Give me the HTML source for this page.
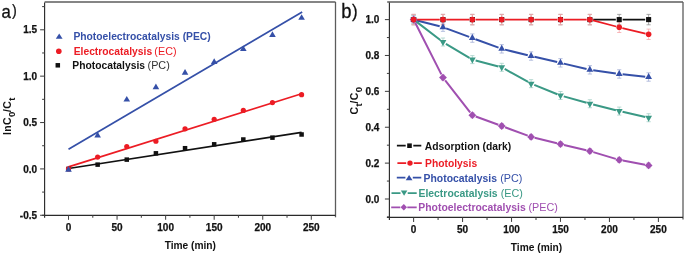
<!DOCTYPE html>
<html><head><meta charset="utf-8"><style>
html,body{margin:0;padding:0;background:#fff;width:685px;height:255px;overflow:hidden}
svg{display:block;will-change:transform}
text{font-family:"Liberation Sans", sans-serif}
.tk{font-size:10px;font-weight:bold;fill:#111;stroke:#111;stroke-width:0.25px}
.lab{font-size:10.2px;font-weight:bold;fill:#111}
.lab2{font-size:10.5px;font-weight:bold;fill:#111;letter-spacing:0.4px}
.sub{font-size:9.6px}
.lg{font-size:10.3px}
.lgr{font-size:10.8px}
.panel{font-size:20px;fill:#111;stroke:#111;stroke-width:0.3px}
.panel2{font-size:17px;fill:#111;stroke:#111;stroke-width:0.25px}
</style></head><body>
<svg width="685" height="255" viewBox="0 0 685 255">
<line x1="44.6" y1="2.0" x2="335.5" y2="2.0" stroke="#5c5c5c" stroke-width="1.3"/>
<line x1="335.5" y1="2.0" x2="335.5" y2="217.3" stroke="#5c5c5c" stroke-width="1.3"/>
<line x1="44.6" y1="2.5" x2="44.6" y2="217.8" stroke="#2a2a2a" stroke-width="1.15"/>
<line x1="42.1" y1="215.3" x2="335.5" y2="215.3" stroke="#2a2a2a" stroke-width="1.15"/>
<line x1="40.1" y1="29.78" x2="44.6" y2="29.78" stroke="#444" stroke-width="1.05"/>
<text x="37.1" y="33.38" text-anchor="end" class="tk">1.5</text>
<line x1="40.1" y1="76.15" x2="44.6" y2="76.15" stroke="#444" stroke-width="1.05"/>
<text x="37.1" y="79.75" text-anchor="end" class="tk">1.0</text>
<line x1="40.1" y1="122.53" x2="44.6" y2="122.53" stroke="#444" stroke-width="1.05"/>
<text x="37.1" y="126.12" text-anchor="end" class="tk">0.5</text>
<line x1="40.1" y1="168.90" x2="44.6" y2="168.90" stroke="#444" stroke-width="1.05"/>
<text x="37.1" y="172.50" text-anchor="end" class="tk">0.0</text>
<line x1="40.1" y1="215.28" x2="44.6" y2="215.28" stroke="#444" stroke-width="1.05"/>
<text x="37.1" y="218.88" text-anchor="end" class="tk">-0.5</text>
<line x1="42.1" y1="6.59" x2="44.6" y2="6.59" stroke="#444" stroke-width="1.05"/>
<line x1="42.1" y1="52.96" x2="44.6" y2="52.96" stroke="#444" stroke-width="1.05"/>
<line x1="42.1" y1="99.34" x2="44.6" y2="99.34" stroke="#444" stroke-width="1.05"/>
<line x1="42.1" y1="145.71" x2="44.6" y2="145.71" stroke="#444" stroke-width="1.05"/>
<line x1="42.1" y1="192.09" x2="44.6" y2="192.09" stroke="#444" stroke-width="1.05"/>
<line x1="68.50" y1="215.3" x2="68.50" y2="219.8" stroke="#444" stroke-width="1.05"/>
<text x="68.50" y="231.3" text-anchor="middle" class="tk">0</text>
<line x1="117.06" y1="215.3" x2="117.06" y2="219.8" stroke="#444" stroke-width="1.05"/>
<text x="117.06" y="231.3" text-anchor="middle" class="tk">50</text>
<line x1="165.62" y1="215.3" x2="165.62" y2="219.8" stroke="#444" stroke-width="1.05"/>
<text x="165.62" y="231.3" text-anchor="middle" class="tk">100</text>
<line x1="214.18" y1="215.3" x2="214.18" y2="219.8" stroke="#444" stroke-width="1.05"/>
<text x="214.18" y="231.3" text-anchor="middle" class="tk">150</text>
<line x1="262.74" y1="215.3" x2="262.74" y2="219.8" stroke="#444" stroke-width="1.05"/>
<text x="262.74" y="231.3" text-anchor="middle" class="tk">200</text>
<line x1="311.30" y1="215.3" x2="311.30" y2="219.8" stroke="#444" stroke-width="1.05"/>
<text x="311.30" y="231.3" text-anchor="middle" class="tk">250</text>
<line x1="92.78" y1="215.3" x2="92.78" y2="217.8" stroke="#444" stroke-width="1.05"/>
<line x1="141.34" y1="215.3" x2="141.34" y2="217.8" stroke="#444" stroke-width="1.05"/>
<line x1="189.90" y1="215.3" x2="189.90" y2="217.8" stroke="#444" stroke-width="1.05"/>
<line x1="238.46" y1="215.3" x2="238.46" y2="217.8" stroke="#444" stroke-width="1.05"/>
<line x1="287.02" y1="215.3" x2="287.02" y2="217.8" stroke="#444" stroke-width="1.05"/>
<text x="190.3" y="248.9" text-anchor="middle" class="lab">Time (min)</text>
<text transform="translate(11.3,135.1) rotate(-90)" x="0" y="0" class="lab2">lnC<tspan class="sub" dy="4">0</tspan><tspan dy="-4" dx="-0.8">/C</tspan><tspan class="sub" dy="4">t</tspan></text>
<text x="0" y="0" class="panel" transform="translate(1.5,17.6) scale(0.84,0.91)">a</text>
<text x="0" y="0" class="panel2" transform="translate(11.9,16.2) scale(0.85,0.93)">)</text>
<line x1="68.50" y1="149.3" x2="302.19" y2="11.9" stroke="#3550a8" stroke-width="1.7"/>
<line x1="68.50" y1="166.9" x2="301.59" y2="93.8" stroke="#ec1c24" stroke-width="1.7"/>
<line x1="68.50" y1="168.5" x2="301.59" y2="132.4" stroke="#111111" stroke-width="1.7"/>
<rect x="66.25" y="166.65" width="4.5" height="4.5" fill="#111111"/>
<rect x="95.39" y="162.38" width="4.5" height="4.5" fill="#111111"/>
<rect x="124.52" y="157.38" width="4.5" height="4.5" fill="#111111"/>
<rect x="153.66" y="151.07" width="4.5" height="4.5" fill="#111111"/>
<rect x="182.79" y="145.97" width="4.5" height="4.5" fill="#111111"/>
<rect x="211.93" y="142.07" width="4.5" height="4.5" fill="#111111"/>
<rect x="241.07" y="137.25" width="4.5" height="4.5" fill="#111111"/>
<rect x="270.20" y="135.39" width="4.5" height="4.5" fill="#111111"/>
<rect x="299.34" y="132.24" width="4.5" height="4.5" fill="#111111"/>
<circle cx="68.50" cy="168.90" r="2.6" fill="#ec1c24"/>
<circle cx="97.64" cy="157.12" r="2.6" fill="#ec1c24"/>
<circle cx="126.77" cy="146.55" r="2.6" fill="#ec1c24"/>
<circle cx="155.91" cy="141.26" r="2.6" fill="#ec1c24"/>
<circle cx="185.04" cy="128.83" r="2.6" fill="#ec1c24"/>
<circle cx="214.18" cy="119.28" r="2.6" fill="#ec1c24"/>
<circle cx="243.32" cy="110.47" r="2.6" fill="#ec1c24"/>
<circle cx="272.45" cy="102.58" r="2.6" fill="#ec1c24"/>
<circle cx="301.59" cy="94.70" r="2.6" fill="#ec1c24"/>
<polygon points="65.20,171.70 71.80,171.70 68.50,166.10" fill="#3550a8"/>
<polygon points="94.34,137.38 100.94,137.38 97.64,131.78" fill="#3550a8"/>
<polygon points="123.47,101.58 130.07,101.58 126.77,95.98" fill="#3550a8"/>
<polygon points="152.61,89.15 159.21,89.15 155.91,83.55" fill="#3550a8"/>
<polygon points="181.74,74.68 188.34,74.68 185.04,69.08" fill="#3550a8"/>
<polygon points="210.88,63.92 217.48,63.92 214.18,58.32" fill="#3550a8"/>
<polygon points="240.02,51.12 246.62,51.12 243.32,45.53" fill="#3550a8"/>
<polygon points="269.15,36.93 275.75,36.93 272.45,31.33" fill="#3550a8"/>
<polygon points="298.29,19.78 304.89,19.78 301.59,14.18" fill="#3550a8"/>
<polygon points="55.80,38.80 62.60,38.80 59.20,33.60" fill="#3550a8"/>
<circle cx="58.80" cy="51.30" r="2.8" fill="#ec1c24"/>
<rect x="55.55" y="63.05" width="4.5" height="4.5" fill="#111111"/>
<text x="73.4" y="40.4" class="lg" fill="#3550a8" font-weight="bold">Photoelectrocatalysis (PEC)</text>
<text x="73.7" y="54.9" class="lg" fill="#ec1c24" font-weight="bold">Electrocatalysis</text>
<text x="154.35" y="54.9" class="lgr" fill="#ec1c24">(EC)</text>
<text x="72.3" y="68.7" class="lg" fill="#111111" font-weight="bold">Photocatalysis</text>
<text x="147.55" y="68.7" class="lgr" fill="#333">(PC)</text>
<line x1="387.2" y1="2.0" x2="683.0" y2="2.0" stroke="#5c5c5c" stroke-width="1.3"/>
<line x1="683.0" y1="2.0" x2="683.0" y2="219.4" stroke="#5c5c5c" stroke-width="1.3"/>
<line x1="389.4" y1="2.5" x2="389.4" y2="219.9" stroke="#2a2a2a" stroke-width="1.15"/>
<line x1="386.9" y1="217.4" x2="683.0" y2="217.4" stroke="#2a2a2a" stroke-width="1.15"/>
<line x1="384.9" y1="199.00" x2="389.4" y2="199.00" stroke="#444" stroke-width="1.05"/>
<text x="379.4" y="202.60" text-anchor="end" class="tk">0.0</text>
<line x1="384.9" y1="163.12" x2="389.4" y2="163.12" stroke="#444" stroke-width="1.05"/>
<text x="379.4" y="166.72" text-anchor="end" class="tk">0.2</text>
<line x1="384.9" y1="127.24" x2="389.4" y2="127.24" stroke="#444" stroke-width="1.05"/>
<text x="379.4" y="130.84" text-anchor="end" class="tk">0.4</text>
<line x1="384.9" y1="91.36" x2="389.4" y2="91.36" stroke="#444" stroke-width="1.05"/>
<text x="379.4" y="94.96" text-anchor="end" class="tk">0.6</text>
<line x1="384.9" y1="55.48" x2="389.4" y2="55.48" stroke="#444" stroke-width="1.05"/>
<text x="379.4" y="59.08" text-anchor="end" class="tk">0.8</text>
<line x1="384.9" y1="19.60" x2="389.4" y2="19.60" stroke="#444" stroke-width="1.05"/>
<text x="379.4" y="23.20" text-anchor="end" class="tk">1.0</text>
<line x1="386.9" y1="216.94" x2="389.4" y2="216.94" stroke="#444" stroke-width="1.05"/>
<line x1="386.9" y1="181.06" x2="389.4" y2="181.06" stroke="#444" stroke-width="1.05"/>
<line x1="386.9" y1="145.18" x2="389.4" y2="145.18" stroke="#444" stroke-width="1.05"/>
<line x1="386.9" y1="109.30" x2="389.4" y2="109.30" stroke="#444" stroke-width="1.05"/>
<line x1="386.9" y1="73.42" x2="389.4" y2="73.42" stroke="#444" stroke-width="1.05"/>
<line x1="386.9" y1="37.54" x2="389.4" y2="37.54" stroke="#444" stroke-width="1.05"/>
<line x1="413.60" y1="217.4" x2="413.60" y2="221.9" stroke="#444" stroke-width="1.05"/>
<text x="413.60" y="232.9" text-anchor="middle" class="tk">0</text>
<line x1="462.56" y1="217.4" x2="462.56" y2="221.9" stroke="#444" stroke-width="1.05"/>
<text x="462.56" y="232.9" text-anchor="middle" class="tk">50</text>
<line x1="511.52" y1="217.4" x2="511.52" y2="221.9" stroke="#444" stroke-width="1.05"/>
<text x="511.52" y="232.9" text-anchor="middle" class="tk">100</text>
<line x1="560.48" y1="217.4" x2="560.48" y2="221.9" stroke="#444" stroke-width="1.05"/>
<text x="560.48" y="232.9" text-anchor="middle" class="tk">150</text>
<line x1="609.44" y1="217.4" x2="609.44" y2="221.9" stroke="#444" stroke-width="1.05"/>
<text x="609.44" y="232.9" text-anchor="middle" class="tk">200</text>
<line x1="658.40" y1="217.4" x2="658.40" y2="221.9" stroke="#444" stroke-width="1.05"/>
<text x="658.40" y="232.9" text-anchor="middle" class="tk">250</text>
<line x1="438.08" y1="217.4" x2="438.08" y2="219.9" stroke="#444" stroke-width="1.05"/>
<line x1="487.04" y1="217.4" x2="487.04" y2="219.9" stroke="#444" stroke-width="1.05"/>
<line x1="536.00" y1="217.4" x2="536.00" y2="219.9" stroke="#444" stroke-width="1.05"/>
<line x1="584.96" y1="217.4" x2="584.96" y2="219.9" stroke="#444" stroke-width="1.05"/>
<line x1="633.92" y1="217.4" x2="633.92" y2="219.9" stroke="#444" stroke-width="1.05"/>
<text x="536.5" y="250.9" text-anchor="middle" class="lab">Time (min)</text>
<text transform="translate(357.6,114.6) rotate(-90)" x="0" y="0" class="lab2">C<tspan class="sub" dy="4.3">t</tspan><tspan dy="-4.3" dx="-0.5">/C</tspan><tspan class="sub" dy="4.3">0</tspan></text>
<text x="0" y="0" class="panel" transform="translate(341.3,17.8) scale(0.97,1.04)" style="font-size:19px">b</text>
<text x="0" y="0" class="panel2" transform="translate(352.0,16.8) scale(1,1.04)">)</text>
<path d="M413.60,14.40V24.80M411.50,14.40H415.70M411.50,24.80H415.70" stroke="#939393" stroke-width="0.8" fill="none"/>
<path d="M442.98,14.40V24.80M440.88,14.40H445.08M440.88,24.80H445.08" stroke="#939393" stroke-width="0.8" fill="none"/>
<path d="M472.35,14.40V24.80M470.25,14.40H474.45M470.25,24.80H474.45" stroke="#939393" stroke-width="0.8" fill="none"/>
<path d="M501.73,14.40V24.80M499.63,14.40H503.83M499.63,24.80H503.83" stroke="#939393" stroke-width="0.8" fill="none"/>
<path d="M531.10,14.40V24.80M529.00,14.40H533.20M529.00,24.80H533.20" stroke="#939393" stroke-width="0.8" fill="none"/>
<path d="M560.48,14.40V24.80M558.38,14.40H562.58M558.38,24.80H562.58" stroke="#939393" stroke-width="0.8" fill="none"/>
<path d="M589.86,14.40V24.80M587.76,14.40H591.96M587.76,24.80H591.96" stroke="#939393" stroke-width="0.8" fill="none"/>
<path d="M619.23,14.40V24.80M617.13,14.40H621.33M617.13,24.80H621.33" stroke="#939393" stroke-width="0.8" fill="none"/>
<path d="M648.61,14.40V24.80M646.51,14.40H650.71M646.51,24.80H650.71" stroke="#939393" stroke-width="0.8" fill="none"/>
<path d="M413.60,15.40V23.80M411.50,15.40H415.70M411.50,23.80H415.70" stroke="#a4b0d7" stroke-width="0.8" fill="none"/>
<path d="M442.98,22.93V31.33M440.88,22.93H445.08M440.88,31.33H445.08" stroke="#a4b0d7" stroke-width="0.8" fill="none"/>
<path d="M472.35,33.88V42.28M470.25,33.88H474.45M470.25,42.28H474.45" stroke="#a4b0d7" stroke-width="0.8" fill="none"/>
<path d="M501.73,44.64V53.04M499.63,44.64H503.83M499.63,53.04H503.83" stroke="#a4b0d7" stroke-width="0.8" fill="none"/>
<path d="M531.10,51.82V60.22M529.00,51.82H533.20M529.00,60.22H533.20" stroke="#a4b0d7" stroke-width="0.8" fill="none"/>
<path d="M560.48,58.64V67.04M558.38,58.64H562.58M558.38,67.04H562.58" stroke="#a4b0d7" stroke-width="0.8" fill="none"/>
<path d="M589.86,65.63V74.03M587.76,65.63H591.96M587.76,74.03H591.96" stroke="#a4b0d7" stroke-width="0.8" fill="none"/>
<path d="M619.23,69.76V78.16M617.13,69.76H621.33M617.13,78.16H621.33" stroke="#a4b0d7" stroke-width="0.8" fill="none"/>
<path d="M648.61,72.81V81.21M646.51,72.81H650.71M646.51,81.21H650.71" stroke="#a4b0d7" stroke-width="0.8" fill="none"/>
<path d="M413.60,15.60V23.60M411.50,15.60H415.70M411.50,23.60H415.70" stroke="#a6d1c8" stroke-width="0.8" fill="none"/>
<path d="M442.98,38.03V46.03M440.88,38.03H445.08M440.88,46.03H445.08" stroke="#a6d1c8" stroke-width="0.8" fill="none"/>
<path d="M472.35,55.61V63.61M470.25,55.61H474.45M470.25,63.61H474.45" stroke="#a6d1c8" stroke-width="0.8" fill="none"/>
<path d="M501.73,63.32V71.32M499.63,63.32H503.83M499.63,71.32H503.83" stroke="#a6d1c8" stroke-width="0.8" fill="none"/>
<path d="M531.10,79.65V87.65M529.00,79.65H533.20M529.00,87.65H533.20" stroke="#a6d1c8" stroke-width="0.8" fill="none"/>
<path d="M560.48,91.49V99.49M558.38,91.49H562.58M558.38,99.49H562.58" stroke="#a6d1c8" stroke-width="0.8" fill="none"/>
<path d="M589.86,99.74V107.74M587.76,99.74H591.96M587.76,107.74H591.96" stroke="#a6d1c8" stroke-width="0.8" fill="none"/>
<path d="M619.23,107.09V115.09M617.13,107.09H621.33M617.13,115.09H621.33" stroke="#a6d1c8" stroke-width="0.8" fill="none"/>
<path d="M648.61,113.73V121.73M646.51,113.73H650.71M646.51,121.73H650.71" stroke="#a6d1c8" stroke-width="0.8" fill="none"/>
<path d="M413.60,17.10V22.10M411.50,17.10H415.70M411.50,22.10H415.70" stroke="#d4afdb" stroke-width="0.8" fill="none"/>
<path d="M442.98,75.05V80.05M440.88,75.05H445.08M440.88,80.05H445.08" stroke="#d4afdb" stroke-width="0.8" fill="none"/>
<path d="M472.35,112.72V117.72M470.25,112.72H474.45M470.25,117.72H474.45" stroke="#d4afdb" stroke-width="0.8" fill="none"/>
<path d="M501.73,123.48V128.48M499.63,123.48H503.83M499.63,128.48H503.83" stroke="#d4afdb" stroke-width="0.8" fill="none"/>
<path d="M531.10,134.43V139.43M529.00,134.43H533.20M529.00,139.43H533.20" stroke="#d4afdb" stroke-width="0.8" fill="none"/>
<path d="M560.48,141.60V146.60M558.38,141.60H562.58M558.38,146.60H562.58" stroke="#d4afdb" stroke-width="0.8" fill="none"/>
<path d="M589.86,148.60V153.60M587.76,148.60H591.96M587.76,153.60H591.96" stroke="#d4afdb" stroke-width="0.8" fill="none"/>
<path d="M619.23,157.39V162.39M617.13,157.39H621.33M617.13,162.39H621.33" stroke="#d4afdb" stroke-width="0.8" fill="none"/>
<path d="M648.61,162.95V167.95M646.51,162.95H650.71M646.51,167.95H650.71" stroke="#d4afdb" stroke-width="0.8" fill="none"/>
<path d="M413.60,14.40V24.80M411.50,14.40H415.70M411.50,24.80H415.70" stroke="#f7a8ab" stroke-width="0.8" fill="none"/>
<path d="M442.98,14.40V24.80M440.88,14.40H445.08M440.88,24.80H445.08" stroke="#f7a8ab" stroke-width="0.8" fill="none"/>
<path d="M472.35,14.40V24.80M470.25,14.40H474.45M470.25,24.80H474.45" stroke="#f7a8ab" stroke-width="0.8" fill="none"/>
<path d="M501.73,14.40V24.80M499.63,14.40H503.83M499.63,24.80H503.83" stroke="#f7a8ab" stroke-width="0.8" fill="none"/>
<path d="M531.10,14.40V24.80M529.00,14.40H533.20M529.00,24.80H533.20" stroke="#f7a8ab" stroke-width="0.8" fill="none"/>
<path d="M560.48,14.40V24.80M558.38,14.40H562.58M558.38,24.80H562.58" stroke="#f7a8ab" stroke-width="0.8" fill="none"/>
<path d="M589.86,14.40V24.80M587.76,14.40H591.96M587.76,24.80H591.96" stroke="#f7a8ab" stroke-width="0.8" fill="none"/>
<path d="M619.23,22.11V32.51M617.13,22.11H621.33M617.13,32.51H621.33" stroke="#f7a8ab" stroke-width="0.8" fill="none"/>
<path d="M648.61,29.11V39.51M646.51,29.11H650.71M646.51,39.51H650.71" stroke="#f7a8ab" stroke-width="0.8" fill="none"/>
<path d="M593.26,19.60L615.83,19.60M622.63,19.60L645.21,19.60" fill="none" stroke="#111111" stroke-width="1.9"/>
<path d="M416.89,20.44L439.68,26.29M446.16,28.32L469.17,36.89M475.54,39.25L498.54,47.67M505.03,49.65L527.80,55.21M534.42,56.79L557.17,62.07M563.79,63.62L586.55,69.04M593.22,70.30L615.87,73.49M622.61,74.31L645.23,76.66" fill="none" stroke="#3550a8" stroke-width="2"/>
<path d="M416.30,21.66L440.27,39.96M445.89,43.77L469.43,57.86M475.64,60.47L498.44,66.46M504.70,68.97L528.13,81.99M534.26,84.92L557.33,94.22M563.75,96.41L586.58,102.82M593.15,104.56L615.93,110.27M622.55,111.84L645.29,116.98" fill="none" stroke="#3a9985" stroke-width="2"/>
<path d="M415.23,22.81L441.35,74.34M445.19,80.39L470.14,112.38M475.73,116.46L498.35,124.75M505.10,127.24L527.73,135.67M534.60,137.78L556.98,143.25M563.98,144.94L586.35,150.27M593.30,152.13L615.78,158.86M622.77,160.56L645.07,164.78" fill="none" stroke="#a04fb0" stroke-width="2"/>
<path d="M416.80,19.60L439.78,19.60M446.18,19.60L469.15,19.60M475.55,19.60L498.53,19.60M504.93,19.60L527.90,19.60M534.30,19.60L557.28,19.60M563.68,19.60L586.66,19.60M592.95,20.41L616.14,26.50M622.34,28.06L645.50,33.57" fill="none" stroke="#ec1c24" stroke-width="1.8"/>
<rect x="411.05" y="17.05" width="5.1" height="5.1" fill="#111111"/>
<rect x="440.43" y="17.05" width="5.1" height="5.1" fill="#111111"/>
<rect x="469.80" y="17.05" width="5.1" height="5.1" fill="#111111"/>
<rect x="499.18" y="17.05" width="5.1" height="5.1" fill="#111111"/>
<rect x="528.55" y="17.05" width="5.1" height="5.1" fill="#111111"/>
<rect x="557.93" y="17.05" width="5.1" height="5.1" fill="#111111"/>
<rect x="587.31" y="17.05" width="5.1" height="5.1" fill="#111111"/>
<rect x="616.68" y="17.05" width="5.1" height="5.1" fill="#111111"/>
<rect x="646.06" y="17.05" width="5.1" height="5.1" fill="#111111"/>
<polygon points="410.20,21.60 417.00,21.60 413.60,15.60" fill="#3550a8"/>
<polygon points="439.58,29.13 446.38,29.13 442.98,23.13" fill="#3550a8"/>
<polygon points="468.95,40.08 475.75,40.08 472.35,34.08" fill="#3550a8"/>
<polygon points="498.33,50.84 505.13,50.84 501.73,44.84" fill="#3550a8"/>
<polygon points="527.70,58.02 534.50,58.02 531.10,52.02" fill="#3550a8"/>
<polygon points="557.08,64.84 563.88,64.84 560.48,58.84" fill="#3550a8"/>
<polygon points="586.46,71.83 593.26,71.83 589.86,65.83" fill="#3550a8"/>
<polygon points="615.83,75.96 622.63,75.96 619.23,69.96" fill="#3550a8"/>
<polygon points="645.21,79.01 652.01,79.01 648.61,73.01" fill="#3550a8"/>
<polygon points="410.20,17.60 417.00,17.60 413.60,23.60" fill="#3a9985"/>
<polygon points="439.58,40.03 446.38,40.03 442.98,46.03" fill="#3a9985"/>
<polygon points="468.95,57.61 475.75,57.61 472.35,63.61" fill="#3a9985"/>
<polygon points="498.33,65.32 505.13,65.32 501.73,71.32" fill="#3a9985"/>
<polygon points="527.70,81.65 534.50,81.65 531.10,87.65" fill="#3a9985"/>
<polygon points="557.08,93.49 563.88,93.49 560.48,99.49" fill="#3a9985"/>
<polygon points="586.46,101.74 593.26,101.74 589.86,107.74" fill="#3a9985"/>
<polygon points="615.83,109.09 622.63,109.09 619.23,115.09" fill="#3a9985"/>
<polygon points="645.21,115.73 652.01,115.73 648.61,121.73" fill="#3a9985"/>
<polygon points="413.60,15.70 417.50,19.60 413.60,23.50 409.70,19.60" fill="#a04fb0"/>
<polygon points="442.98,73.65 446.88,77.55 442.98,81.45 439.08,77.55" fill="#a04fb0"/>
<polygon points="472.35,111.32 476.25,115.22 472.35,119.12 468.45,115.22" fill="#a04fb0"/>
<polygon points="501.73,122.08 505.63,125.98 501.73,129.88 497.83,125.98" fill="#a04fb0"/>
<polygon points="531.10,133.03 535.00,136.93 531.10,140.83 527.20,136.93" fill="#a04fb0"/>
<polygon points="560.48,140.20 564.38,144.10 560.48,148.00 556.58,144.10" fill="#a04fb0"/>
<polygon points="589.86,147.20 593.76,151.10 589.86,155.00 585.96,151.10" fill="#a04fb0"/>
<polygon points="619.23,155.99 623.13,159.89 619.23,163.79 615.33,159.89" fill="#a04fb0"/>
<polygon points="648.61,161.55 652.51,165.45 648.61,169.35 644.71,165.45" fill="#a04fb0"/>
<circle cx="413.60" cy="19.60" r="2.8" fill="#ec1c24"/>
<circle cx="442.98" cy="19.60" r="2.8" fill="#ec1c24"/>
<circle cx="472.35" cy="19.60" r="2.8" fill="#ec1c24"/>
<circle cx="501.73" cy="19.60" r="2.8" fill="#ec1c24"/>
<circle cx="531.10" cy="19.60" r="2.8" fill="#ec1c24"/>
<circle cx="560.48" cy="19.60" r="2.8" fill="#ec1c24"/>
<circle cx="589.86" cy="19.60" r="2.8" fill="#ec1c24"/>
<circle cx="619.23" cy="27.31" r="2.8" fill="#ec1c24"/>
<circle cx="648.61" cy="34.31" r="2.8" fill="#ec1c24"/>
<path d="M396.9,145.7H405.70M413.30,145.7H421.3" stroke="#111111" stroke-width="1.8" fill="none"/>
<rect x="407.20" y="143.40" width="4.6" height="4.6" fill="#111111"/>
<path d="M397.4,163.1H406.20M413.80,163.1H421.8" stroke="#ec1c24" stroke-width="1.8" fill="none"/>
<circle cx="410.00" cy="163.10" r="2.7" fill="#ec1c24"/>
<path d="M396.8,177.6H405.40M412.80,177.6H421.3" stroke="#3550a8" stroke-width="1.8" fill="none"/>
<polygon points="405.70,180.30 412.50,180.30 409.10,174.90" fill="#3550a8"/>
<path d="M391.5,193.1H400.50M407.70,193.1H416.7" stroke="#3a9985" stroke-width="1.8" fill="none"/>
<polygon points="400.80,190.40 407.40,190.40 404.10,195.80" fill="#3a9985"/>
<path d="M391.2,207.3H400.30M407.30,207.3H416.7" stroke="#a04fb0" stroke-width="1.8" fill="none"/>
<polygon points="403.80,204.10 407.00,207.30 403.80,210.50 400.60,207.30" fill="#a04fb0"/>
<text x="424.8" y="149.6" class="lg" fill="#111111" font-weight="bold">Adsorption (dark)</text>
<text x="425.1" y="167" class="lg" fill="#ec1c24" font-weight="bold">Photolysis</text>
<text x="423.6" y="181.7" class="lg" fill="#3550a8" font-weight="bold" style="font-size:10.4px">Photocatalysis</text>
<text x="500.15" y="181.7" class="lgr" fill="#3550a8">(PC)</text>
<text x="418.5" y="196.9" class="lg" fill="#3a9985" font-weight="bold" style="font-size:10.4px">Electrocatalysis</text>
<text x="500.65" y="196.9" class="lgr" fill="#3a9985">(EC)</text>
<text x="418.3" y="211.4" class="lg" fill="#a04fb0" font-weight="bold" style="font-size:10.4px">Photoelectrocatalysis</text>
<text x="528.4" y="211.4" class="lgr" fill="#a04fb0">(PEC)</text>
</svg>
</body></html>
